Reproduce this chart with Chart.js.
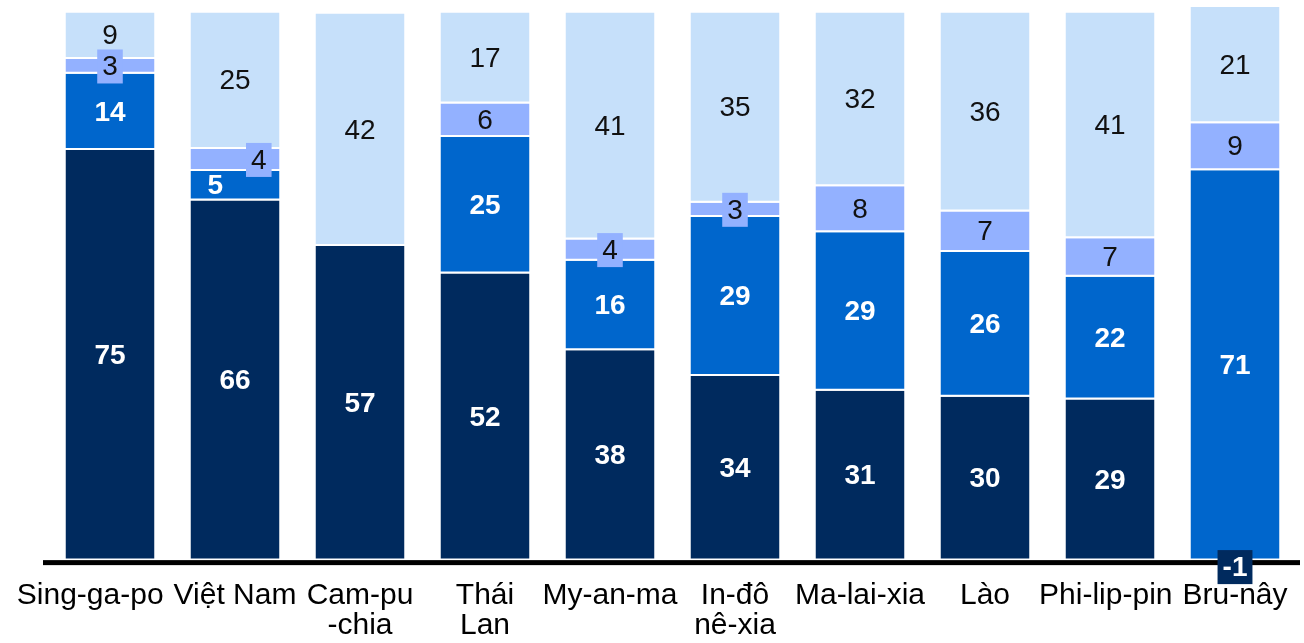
<!DOCTYPE html>
<html>
<head>
<meta charset="utf-8">
<script src="https://cdn.jsdelivr.net/npm/chart.js@4/dist/chart.umd.min.js"></script>
<style>
  html, body { margin: 0; padding: 0; background: #ffffff; }
  #wrap { width: 1304px; height: 643px; }
</style>
</head>
<body>
<div id="wrap"><canvas id="c" width="1304" height="643"></canvas></div>
<script>
// ---- data (percent shares) ----
const categories = [
  ["Sing-ga-po"], ["Việt Nam"], ["Cam-pu", "-chia"], ["Thái", "Lan"], ["My-an-ma"],
  ["In-đô", "nê-xia"], ["Ma-lai-xia"], ["Lào"], ["Phi-lip-pin"], ["Bru-nây"]
];
const seriesDark   = [74.9, 65.7, 57.4, 52.4, 38.4, 33.7, 31.0, 29.9, 29.4, -1.0];
const seriesMedium = [13.9,  5.4,  0.0, 24.9, 16.3, 29.0, 28.9, 26.4, 22.4, 71.2];
const seriesPeri   = [ 2.7,  4.0,  0.0,  6.1,  3.9,  2.6,  8.4,  7.4,  7.0,  8.6];
const seriesLight  = [ 8.5, 24.9, 42.4, 16.6, 41.4, 34.7, 31.7, 36.3, 41.2, 21.2];
const seriesNames  = ["Nhóm 1", "Nhóm 2", "Nhóm 3", "Nhóm 4"];

const colDark = "#002a5e", colMedium = "#0066cc", colPeri = "#93b1ff", colLight = "#c6e0fa";
const FONT = "'Liberation Sans', Arial, sans-serif";
const AXIS_FONT_SIZE = 30, AXIS_LINE_H = 30;

function mkDataset(label, data, color, labelStyle) {
  return {
    label, data,
    backgroundColor: color,
    borderColor: "#ffffff",
    borderWidth: { top: 0, left: 0, right: 0, bottom: 2 },
    borderSkipped: false,
    barPercentage: 0.712,
    categoryPercentage: 1.0,
    labelStyle
  };
}

// category labels under the axis, drawn as text; neighbours that would collide
// are nudged apart (left one moves left) so the long first label stays readable
const axisLabelPlugin = {
  id: "axisLabels",
  afterDraw(chart) {
    const ctx = chart.ctx;
    const xs = chart.scales.x;
    const area = chart.chartArea;
    const labels = chart.data.labels;
    ctx.save();
    ctx.font = AXIS_FONT_SIZE + "px " + FONT;
    const items = labels.map((lines, i) => {
      const w = Math.max(...lines.map(l => ctx.measureText(l).width));
      return { lines, cx: xs.getPixelForValue(i), w };
    });
    const minGap = 10;
    for (let i = items.length - 2; i >= 0; i--) {
      const a = items[i], b = items[i + 1];
      const overlap = (a.cx + a.w / 2 + minGap) - (b.cx - b.w / 2);
      if (overlap > 0) a.cx -= overlap;
    }
    ctx.fillStyle = "#000000";
    ctx.textAlign = "center";
    ctx.textBaseline = "middle";
    items.forEach(it => {
      it.lines.forEach((line, k) => {
        ctx.fillText(line, it.cx, area.bottom + 29 + k * AXIS_LINE_H);
      });
    });
    ctx.restore();
  }
};

const labelPlugin = {
  id: "segLabels",
  afterDatasetsDraw(chart) {
    const ctx = chart.ctx;
    const area = chart.chartArea;
    const y0 = chart.scales.y.getPixelForValue(0);
    // thick zero line
    ctx.save();
    ctx.fillStyle = "#000000";
    ctx.fillRect(area.left - 4.5, y0 - 0.5, area.right - area.left + 7, 5);
    ctx.restore();

    const n = chart.data.labels.length;
    for (let i = 0; i < n; i++) {
      const items = [];
      chart.data.datasets.forEach((ds, di) => {
        const v = ds.data[i];
        if (!v) return;
        const bar = chart.getDatasetMeta(di).data[i];
        const top = Math.min(bar.y, bar.base), bot = Math.max(bar.y, bar.base);
        const st = ds.labelStyle;
        ctx.font = (st.bold ? "bold " : "") + "28px " + FONT;
        const text = String(Math.round(v));
        const w = ctx.measureText(text).width;
        const h = bot - top;
        const boxed = h < 26;
        const y = v < 0 ? bot + 1 : (top + bot) / 2;
        items.push({ x: bar.x, y, text, w, boxed, st, color: ds.backgroundColor,
                     bw: w + 10, bh: 34 });
      });
      // avoid overlap between a boxed label and the label right below it
      for (let k = 1; k < items.length; k++) {
        const a = items[k], b = items[k - 1];
        if (!a.boxed) continue;
        const aTop = a.y - a.bh / 2, aBot = a.y + a.bh / 2;
        const bTop = b.y - 10, bBot = b.y + 10;
        if (aBot > bTop && aTop < bBot) {
          a.x += a.bw / 2 + 11;
          b.x -= b.w / 2 + 12;
        }
      }
      items.forEach(it => {
        ctx.save();
        if (it.boxed) {
          ctx.fillStyle = it.color;
          ctx.fillRect(it.x - it.bw / 2, it.y - it.bh / 2, it.bw, it.bh);
        }
        ctx.font = (it.st.bold ? "bold " : "") + "28px " + FONT;
        ctx.fillStyle = it.st.color;
        ctx.textAlign = "center";
        ctx.textBaseline = "middle";
        ctx.fillText(it.text, it.x, it.y + 1);
        ctx.restore();
      });
    }
  }
};

new Chart(document.getElementById("c"), {
  type: "bar",
  data: {
    labels: categories,
    datasets: [
      mkDataset(seriesNames[0], seriesDark,   colDark,   { bold: true,  color: "#ffffff" }),
      mkDataset(seriesNames[1], seriesMedium, colMedium, { bold: true,  color: "#ffffff" }),
      mkDataset(seriesNames[2], seriesPeri,   colPeri,   { bold: false, color: "#111111" }),
      mkDataset(seriesNames[3], seriesLight,  colLight,  { bold: false, color: "#111111" })
    ]
  },
  options: {
    responsive: false,
    animation: false,
    devicePixelRatio: 1,
    layout: { padding: { left: 47.5, right: 6.5, top: 7, bottom: 75.8 } },
    plugins: { legend: { display: false }, tooltip: { enabled: false } },
    scales: {
      x: {
        stacked: true,
        grid: { display: false, drawTicks: false },
        border: { display: false },
        ticks: { display: false }
      },
      y: {
        stacked: true,
        display: false,
        min: -1.2,
        max: 101
      }
    }
  },
  plugins: [labelPlugin, axisLabelPlugin]
});
</script>
</body>
</html>
